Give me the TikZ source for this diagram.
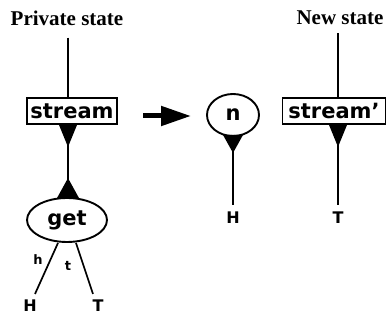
\documentclass[tikz,border=0pt]{standalone}
\usepackage{fontspec}
\setmainfont{Liberation Serif}
\newfontfamily\lab{DejaVu Sans}
\usetikzlibrary{shapes.geometric,arrows.meta,calc}
\begin{document}
\begin{tikzpicture}[x=1pt,y=-1pt,
  head/.style={font=\bfseries\fontsize{21}{21}\selectfont, inner sep=0pt},
  big/.style={font=\lab\bfseries\fontsize{21}{21}\selectfont, inner sep=0pt},
  small/.style={font=\lab\bfseries\fontsize{16}{16}\selectfont, inner sep=0pt},
  tiny/.style={font=\lab\bfseries\fontsize{13}{13}\selectfont, inner sep=0pt},
  box/.style={big, draw, line width=1.9pt, minimum height=26pt},
  ell/.style={big, draw, ellipse, line width=1.9pt},
  wire/.style={line width=1.7pt},
  tri/.style={fill=black}]
\useasboundingbox (0,0) rectangle (386,320);

% headers
\node[head] (ps) at (67,18) {Private state};
\node[head] (ns) at (340,18) {New state};

% left side
\node[box, minimum width=90pt] (s) at (72,111) {stream};
\node[ell, minimum width=80pt, minimum height=44pt] (g) at (67,220) {get};
\node[small] (H1) at (30,306) {H};
\node[small] (T1) at (98,306) {T};
\node[tiny] (h) at (38,260) {h};
\node[tiny] (t) at (68,266) {t};

% right side
\node[ell, minimum width=52pt, minimum height=42pt] (n) at (233,115) {n};
\node[box, minimum width=103pt] (sp) at (334,111) {stream’};
\node[small] (H2) at (233,218) {H};
\node[small] (T2) at (338,218) {T};

% transformation arrow
\coordinate (a0) at (143,116);
\coordinate (a1) at (191,116);
\draw[line width=5pt, -{Triangle[length=30pt,width=19pt]}] (a0) -- (a1);

% wires
\draw[wire] ($(ps.south -| 68,0)+(0,12)$) -- (s.north -| 68,0);
\draw[wire] (s.south -| 68,0) -- (g.north -| 68,0);
\draw[wire] ($(g.south)+(-9,0)$) -- ($(H1.north)+(5,-6)$);
\draw[wire] ($(g.south)+(9,0)$) -- ($(T1.north)+(-5,-6)$);

\draw[wire] ($(ns.south)+(-2,8)$) -- (sp.north -| 338,0);
\draw[wire] (n.south) -- ($(H2.north)+(0,-7)$);
\draw[wire] (sp.south -| 338,0) -- ($(T2.north)+(0,-7)$);

% solid triangles
\fill[tri] ($(s.south -| 68,0)+(-9,0)$) -- ++(18,0) -- ($(s.south -| 68,0)+(0,22)$) -- cycle;
\fill[tri] ($(g.north -| 68,0)+(-11,1)$) -- ++(22,0) -- ($(g.north -| 68,0)+(0,-19)$) -- cycle;
\fill[tri] ($(n.south)+(-10,-2)$) -- ++(20,0) -- ($(n.south)+(0,16)$) -- cycle;
\fill[tri] ($(sp.south -| 338,0)+(-9,0)$) -- ++(18,0) -- ($(sp.south -| 338,0)+(0,22)$) -- cycle;
\end{tikzpicture}
\end{document}
